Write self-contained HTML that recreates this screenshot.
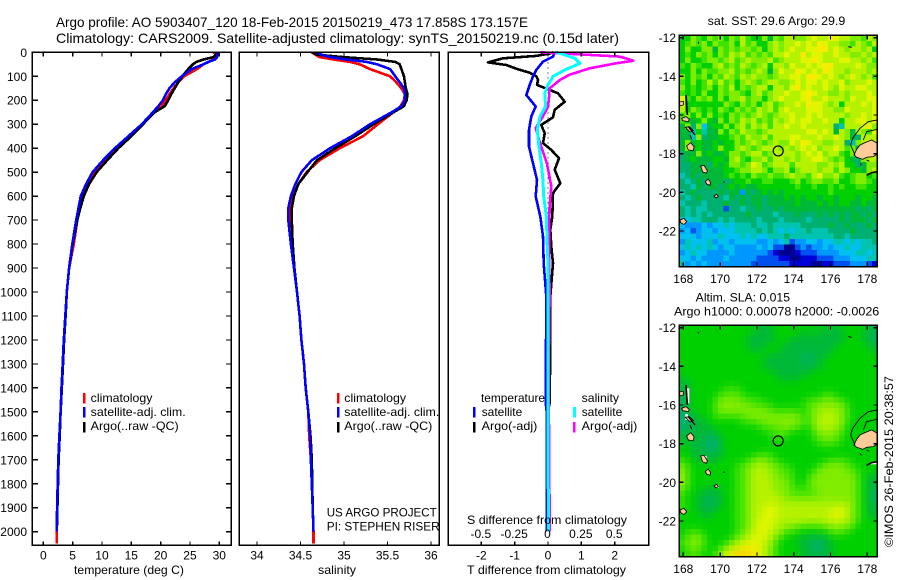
<!DOCTYPE html>
<html>
<head>
<meta charset="utf-8">
<title>Argo profile</title>
<style>
html,body{margin:0;padding:0;background:#fff;}
svg{display:block;}
text{font-family:"Liberation Sans",sans-serif;font-size:12px;fill:#000;}
</style>
</head>
<body>
<svg id="fig" xmlns="http://www.w3.org/2000/svg" width="900" height="580" viewBox="0 0 900 580">
  <rect x="0" y="0" width="900" height="580" fill="#fff"/>
  <text x="56" y="27" style="font-size:14px" textLength="472" lengthAdjust="spacingAndGlyphs">Argo profile: AO 5903407_120 18-Feb-2015 20150219_473 17.858S 173.157E</text>
  <text x="56" y="43" style="font-size:14px" textLength="563" lengthAdjust="spacingAndGlyphs">Climatology: CARS2009. Satellite-adjusted climatology: synTS_20150219.nc (0.15d later)</text>

  <text x="74" y="574" textLength="110" lengthAdjust="spacingAndGlyphs">temperature (deg C)</text>
  <text x="318" y="574" textLength="38" lengthAdjust="spacingAndGlyphs">salinity</text>
  <text x="467" y="574" textLength="159" lengthAdjust="spacingAndGlyphs">T difference from climatology</text>

  <g id="marks"></g>

  <text x="467" y="524" textLength="160" lengthAdjust="spacingAndGlyphs">S difference from climatology</text>

  <g>
    <rect x="83" y="393" width="2.5" height="10.5" fill="#ff0000"/>
    <rect x="83" y="407" width="2.5" height="10.5" fill="#0000ff"/>
    <rect x="83" y="422" width="2.5" height="10.5" fill="#000"/>
    <text x="90.7" y="402" textLength="61.7" lengthAdjust="spacingAndGlyphs">climatology</text>
    <text x="90.7" y="416" textLength="95" lengthAdjust="spacingAndGlyphs">satellite-adj. clim.</text>
    <text x="90.7" y="430" textLength="88" lengthAdjust="spacingAndGlyphs">Argo(..raw -QC)</text>
  </g>
  <g>
    <rect x="337" y="393" width="2.5" height="10.5" fill="#ff0000"/>
    <rect x="337" y="407" width="2.5" height="10.5" fill="#0000ff"/>
    <rect x="337" y="422" width="2.5" height="10.5" fill="#000"/>
    <text x="344.3" y="402" textLength="61.7" lengthAdjust="spacingAndGlyphs">climatology</text>
    <text x="344.3" y="416" textLength="95" lengthAdjust="spacingAndGlyphs">satellite-adj. clim.</text>
    <text x="344.3" y="430" textLength="88" lengthAdjust="spacingAndGlyphs">Argo(..raw -QC)</text>
  </g>
  <text x="326.7" y="516.7" textLength="110" lengthAdjust="spacingAndGlyphs">US ARGO PROJECT</text>
  <text x="326.7" y="530.7" textLength="113" lengthAdjust="spacingAndGlyphs">PI: STEPHEN RISER</text>

  <g>
    <text x="481" y="402" textLength="64" lengthAdjust="spacingAndGlyphs">temperature</text>
    <rect x="473" y="407" width="2.5" height="10.5" fill="#0000ff"/>
    <rect x="473" y="422" width="2.5" height="10.5" fill="#000"/>
    <text x="481.7" y="416" textLength="40.6" lengthAdjust="spacingAndGlyphs">satellite</text>
    <text x="481.7" y="430" textLength="55.6" lengthAdjust="spacingAndGlyphs">Argo(-adj)</text>
    <text x="581.7" y="402" textLength="37.3" lengthAdjust="spacingAndGlyphs">salinity</text>
    <rect x="573" y="407" width="3" height="10.5" fill="#00ffff"/>
    <rect x="573" y="422" width="2.5" height="10.5" fill="#ff00ff"/>
    <text x="581.7" y="416" textLength="40.6" lengthAdjust="spacingAndGlyphs">satellite</text>
    <text x="581.7" y="430" textLength="55.6" lengthAdjust="spacingAndGlyphs">Argo(-adj)</text>
  </g>

  <text x="707.7" y="25" textLength="137.6" lengthAdjust="spacingAndGlyphs">sat. SST: 29.6 Argo: 29.9</text>
  <text x="695.7" y="301.7" textLength="94.3" lengthAdjust="spacingAndGlyphs">Altim. SLA: 0.015</text>
  <text x="674" y="315.7" textLength="205.3" lengthAdjust="spacingAndGlyphs">Argo h1000: 0.00078 h2000: -0.0026</text>
  <text transform="translate(893,547) rotate(-90)" textLength="171" lengthAdjust="spacingAndGlyphs">©IMOS 26-Feb-2015 20:38:57</text>
</svg>

<script>
// ---- profile data ----
const depths = [0,10,20,30,40,50,70,100,125,150,175,200,225,250,300,350,400,450,500,550,600,650,700,800,900,1000,1100,1200,1300,1400,1500,1600,1700,1800,1900,2000];
const climDepths = [0,10,20,30,40,50,70,100,125,150,175,200,225,250,300,350,400,450,500,550,600,650,700,800,900,1000,1100,1200,1300,1400,1500,1600,1700,1800,1900,2000,2050];

const tempArgo = [29.7,29.4,29.0,27.3,26.1,25.5,24.7,23.7,23.0,22.4,21.8,21.3,20.7,19.0,17.0,15.0,12.8,10.9,9.1,7.8,6.9,6.3,5.8,5.0,4.4,4.0,3.8,3.55,3.35,3.15,2.95,2.8,2.6,2.5,2.4,2.3];
const tempSat = [29.7,29.7,29.6,29.3,28.1,27.3,25.3,23.6,22.4,21.5,20.9,20.4,19.6,18.7,16.8,14.5,12.2,10.2,8.4,7.3,6.4,6.0,5.6,4.95,4.4,4.0,3.75,3.5,3.3,3.1,2.95,2.75,2.55,2.45,2.35,2.3];
const tempClim = [29.0,29.5,29.6,29.0,28.2,27.3,26.2,24.0,23.0,22.2,21.5,20.9,20.2,19.0,16.9,14.8,12.5,10.5,8.7,7.5,6.7,6.2,5.8,5.2,4.4,4.0,3.8,3.55,3.35,3.15,2.95,2.75,2.6,2.5,2.4,2.3,2.3];

const salArgo = [34.63,34.69,34.99,35.38,35.59,35.64,35.66,35.69,35.70,35.71,35.73,35.72,35.69,35.57,35.34,35.13,34.90,34.69,34.58,34.475,34.425,34.40,34.40,34.41,34.43,34.46,34.49,34.51,34.54,34.56,34.59,34.615,34.63,34.635,34.64,34.65];
const salSat = [34.70,34.74,34.84,35.03,35.26,35.38,35.53,35.59,35.64,35.69,35.70,35.70,35.66,35.55,35.30,35.09,34.84,34.63,34.51,34.44,34.39,34.36,34.36,34.39,34.425,34.46,34.49,34.51,34.54,34.56,34.59,34.61,34.62,34.63,34.64,34.65];
const salClim = [34.63,34.67,34.72,34.88,35.07,35.18,35.30,35.53,35.60,35.66,35.70,35.69,35.65,35.57,35.39,35.22,34.95,34.72,34.57,34.475,34.42,34.39,34.39,34.41,34.43,34.46,34.49,34.51,34.54,34.56,34.59,34.60,34.62,34.63,34.64,34.65,34.65];

const dTArgoDepths = [0,5,15,25,42,53,71,85,100,115,136,157,171,206,240,271,303,338,379,407,442,490,546,587,685,740,810,880,1018,1200,1460,1500,1700,2000];
const dTArgo = [0.15,0.05,-0.35,-1.35,-1.8,-1.25,-0.9,-0.55,-0.35,-0.3,-0.33,0.05,0.3,0.5,0.2,0.15,-0.2,-0.1,-0.15,0.1,0.33,0.2,0.37,0.15,0.13,0.07,0.1,0.15,0.07,0.07,0.05,0,0,0];
const dTSatDepths = [0,18,39,74,100,136,178,226,268,324,393,463,532,601,685,768,880,1018,1460,1500,2000];
const dTSat = [0.2,0.15,-0.15,-0.35,-0.45,-0.55,-0.65,-0.37,-0.5,-0.57,-0.57,-0.45,-0.33,-0.37,-0.23,-0.15,-0.13,-0.05,-0.07,-0.04,-0.04];
const dSSatDepths = [0,8,25,46,74,100,136,171,226,268,324,393,463,532,601,685,768,880,2000];
const dSSat = [0.06,0.11,0.2,0.24,0.125,0.04,0,-0.025,-0.018,-0.06,-0.08,-0.068,-0.05,-0.038,-0.032,-0.012,-0.008,0,0.002];
const dSArgoDepths = [0,3,11,18,35,46,67,94,115,150,185,226,268,316,379,463,560,643,740,824,1018,1300,1700,1900,2000];
const dSArgo = [-0.06,0.05,0.31,0.54,0.64,0.51,0.31,0.16,0.09,0.012,0.008,0,-0.038,-0.092,-0.06,-0.008,0.025,0.012,0.008,0.008,0.012,0.005,0.008,0.012,0.012];

// ---- tick labels ----
const depthTicks = [0,100,200,300,400,500,600,700,800,900,1000,1100,1200,1300,1400,1500,1600,1700,1800,1900,2000];
const tempTicks = [0,5,10,15,20,25,30];
const salTicks = [34,34.5,35,35.5,36];
const dTTicks = [-2,-1,0,1,2];
const dSTicks = [-0.5,-0.25,0,0.25,0.5];
const lonTicks = [168,170,172,174,176,178];
const latTicks = [12,14,16,18,20,22];

// ---- map values: one character per cell, level 0 (coldest/lowest) to e (warmest/highest) ----
const sstRows = [
"88a98a9a8a9b988a7a9bbaabcbbdcbbaa9ba",
"89a9a8a99a8b9a88ababbcbcbdcbbaa9ba9b",
"8a88aa7a9a9aa9a8ababcbbccddbcbabbab8",
"898a9a8a9bab9a9a9bbcbbdbccbbcbbaabab",
"8a889aa9ab9abaaab9abbbccdcbbbccbbab9",
"98a988ab9a9ba9ab8bbacbbcbcddbbbbcbaa",
"88a8a99aab9a9aba7acbbdcbcbdcbbabbbab",
"a8a9a8a9ba9babaa9abbccbddcbcbabcbab9",
"98a89b9b9a8aba9abbaabcbccbcbbcabbbcb",
"a8989a8a9b8a9abb8bbacdbcbbcbacbbccbb",
"9898a88a9aa98ab9abbcbbcdcbbaababbbcb",
"c98a9a8a8aab9aa8abcbbbcdbbcbbbacbbcc",
"c8888888a98a9a8ab9abbcbdccbab8bbbcbc",
"b8a9898a98a9a9bab9bcbbbcccbbaacbbbbc",
"9a8a8a898a9a9aba9abbcbbcbcbbbbabbcbc",
"9878a87a8a9bab9a9babcbccbbcbb8bbccbc",
"7a6a4788a8ab9bab9bbcbbcbbbbb65bbbcca",
"7758577a8a9baa9abbbbbbbccbcb7ba7ba9c",
"775a677889a9baab9bbbccbbbcbbcba76bbb",
"7a78778788a9aba9abaacbdcbbaabb65abcb",
"7a78778a88aba9abbbababcbcabbcb9a67bc",
"677a78778aa9abb9abbbbabcbcabb98a77ab",
"678777887ab98aab9bbababbccba9a876abb",
"667776878aa9acb9abbb9bbbbaabab8867aa",
"66776777889aabba8aab8abbbabb9ba887ab",
"5676777789898a99a99abaa9bcaab989aa89",
"656767776788988998889a89aa99a889aa98",
"665767767878778888888988988989889988",
"567666676773767878788888888988888888",
"656766665767677677787878878878887887",
"566656667667677677777877787878877877",
"656556662665667667677777777777776767",
"656565666666766665666766676767677676",
"545566656566665666566665666667677767",
"433343445455565565555566666766766676",
"342344344455556565454556555666676666",
"444344454445454455565555555566566666",
"354445344344443343452334434455454556",
"454545434433334342200232334344544555",
"345443333433333321000122233334445545",
"443433334333332222110011122233344455",
"534343333333322222221111001122233321"
];
const slaRows = [
"888888888888887778888888878778888877",
"888888888888877778888877877777888776",
"888888888888777777887777777777888776",
"888888888888777788877777777778888877",
"888888888888877888777777777788888887",
"888888888888888877777776777888888888",
"888888888888888777777766778888888888",
"888888888888888777777777778888888888",
"888888888888888887777777888888888888",
"788888888888888888777788888888888888",
"778888888888888888888888888888888888",
"778888889998888888888888888888888888",
"778888899999888888888888889988888888",
"6788889aaaa999988888888999aa99888888",
"6788889aaaaaa99998888899aaaaaa988888",
"6788889aaaaaaaaa99999989aabbaa988888",
"667788999999aaaaaaaaaa99abbbba988888",
"667778888889999aaaaaaa99abbbba988888",
"667777888888889999aaa998abbbaa888888",
"7777777888888888999988889aaaa9888888",
"77777667888888888998888899aa99888888",
"877766678888888888888888899998888888",
"887776678888888888888888888888888888",
"887777778888889998888888888888888888",
"9887777888889aaa99888888888999988888",
"a98888888899aabbaa99888889aaaa998888",
"a98888888899abbbaa9998889aaaaaa99888",
"b98888888899abbbbaa99889aaaaaaaa9877",
"b98888888899abbbbaaa9889aaaaaaaa9877",
"a98887788899abbbbaaa9999aaaaaaaa9877",
"988777778899abbbbbaa99999aaaaaaa9876",
"988776778899abbbbbbaaaaaaaaaaaaa9876",
"988776778899abbbcbbbbbbbbbbbbbba9877",
"988777788899abbcccbbbbbbbbbbccba9877",
"888877888899abbcccbbbbbbbbbcccba9877",
"888888888899abcccbbbbbbbbbbbcbba9888",
"888888888899abcccbbaaa9999aaaaa98888",
"899988888899bbccbba998888889a9988888",
"89aa988888aabcccba988877777888888888",
"9aaa98889abbcccbb9888777667788888888",
"89a99889abccddcba9888877667788888888",
"8999889bcdeeedcba9888877777788888888"
];
const levelChars = "0123456789abcde";
const levelColors = ["#000090","#0000d8","#0050f0","#0098ff","#00c0f0","#00c4b0","#00b070","#00b838","#00d000","#40e200","#80ec00","#b4f200","#e0f600","#f8ec00","#ffc800"];

// ---- axis functions ----
const yDepth = d => 52.3 + d * 0.2397;
const xTemp = v => 43.3 + v * 5.867;
const xSal = v => 257 + (v - 34) * 87;
const xDT = v => 548 + v * 33.35;
const xDS = v => 548 + v * 133.4;
const lonX = lon => 683.3 + (lon - 168) * 18.4;
const latY = (lat, top) => top + 2.4 + (lat - 12) * 19.33;

const SVGNS = "http://www.w3.org/2000/svg";
const root = document.getElementById("marks");
function make(tag, attrs, parent) {
  const el = document.createElementNS(SVGNS, tag);
  for (const k in attrs) el.setAttribute(k, attrs[k]);
  (parent || root).appendChild(el);
  return el;
}
function tickLine(x1, y1, x2, y2) {
  const el = make("line", {x1, y1, x2, y2, stroke: "#000", "stroke-width": 1.3, "shape-rendering": "crispEdges"});
  
  
  return el;
}
function tickLabel(x, y, str, anchor) {
  const el = make("text", {x, y, "text-anchor": anchor});
  el.textContent = str;
  
  
  return el;
}
function frame(x, y, w, h, name) {
  const el = make("rect", {x, y, width: w, height: h, fill: "none", stroke: "#000", "stroke-width": 1.5, "shape-rendering": "crispEdges"});
  
  
  return el;
}
function series(xs, ds, xFn, color, width, name) {
  const pts = xs.map((v, i) => xFn(v).toFixed(1) + "," + yDepth(ds[i]).toFixed(1)).join(" ");
  const el = make("polyline", {points: pts, fill: "none", stroke: color, "stroke-width": width, "stroke-linejoin": "round", "shape-rendering": "crispEdges"});
  
  
  return el;
}

// ---- panel geometry ----
const panelTop = 52.3, panelBottom = 545.3, panelH = panelBottom - panelTop;

// Temperature panel
series(tempClim, climDepths, xTemp, "#ff0000", 2.6, "temperature-climatology-line");
series(tempArgo, depths, xTemp, "#000000", 2.6, "temperature-argo-line");
series(tempSat, depths, xTemp, "#0000ff", 2.6, "temperature-satellite-line");
frame(32.3, panelTop, 199, panelH, "temperature-panel-frame");
depthTicks.forEach(d => {
  tickLine(32.3, yDepth(d), 38, yDepth(d));
  tickLine(226, yDepth(d), 231.3, yDepth(d));
  tickLabel(27, yDepth(d) + 4.5, String(d), "end");
});
tempTicks.forEach(t => {
  tickLine(xTemp(t), panelTop, xTemp(t), panelTop + 4);
  tickLine(xTemp(t), panelBottom - 4, xTemp(t), panelBottom);
  tickLabel(xTemp(t), 559.5, String(t), "middle");
});

// Salinity panel
series(salClim, climDepths, xSal, "#ff0000", 2.6, "salinity-climatology-line");
series(salArgo, depths, xSal, "#000000", 2.6, "salinity-argo-line");
series(salSat, depths, xSal, "#0000ff", 2.6, "salinity-satellite-line");
frame(239.3, panelTop, 200, panelH, "salinity-panel-frame");
salTicks.forEach(t => {
  tickLine(xSal(t), panelTop, xSal(t), panelTop + 4);
  tickLine(xSal(t), panelBottom - 4, xSal(t), panelBottom);
  tickLabel(xSal(t), 559.5, String(t), "middle");
});

// Difference panel
const zeroLine = make("line", {x1: xDT(0), y1: panelTop, x2: xDT(0), y2: 300, stroke: "#000", "stroke-width": 1, "stroke-dasharray": "1,4", "shape-rendering": "crispEdges"});


series(dTArgo, dTArgoDepths, xDT, "#000000", 2.6, "t-difference-argo-line");
series(dTSat, dTSatDepths, xDT, "#0000ff", 2.6, "t-difference-satellite-line");
series(dSArgo, dSArgoDepths, xDS, "#ff00ff", 2.6, "s-difference-argo-line");
series(dSSat, dSSatDepths, xDS, "#00ffff", 3, "s-difference-satellite-line");
frame(448.3, panelTop, 200.4, panelH, "difference-panel-frame");
dTTicks.forEach(t => {
  tickLine(xDT(t), panelTop, xDT(t), panelTop + 4);
  tickLine(xDT(t), panelBottom - 4, xDT(t), panelBottom);
  tickLabel(xDT(t), 559.5, String(t), "middle");
});
dSTicks.forEach(t => {
  tickLabel(xDS(t) - 0.5, 538, String(t), "middle");
});

// ---- maps ----
const mapLeft = 679.3, mapWidth = 198, mapHeight = 231.4;
const landPolys = [
  "582,465 590,448 600,435 615,428 635,420 652,430 652,462 640,470 620,472 608,478 590,472",
  "122,498 132,496 142,512 140,520 128,516",
  "136,545 145,537 152,548 150,556 140,552",
  "80,438 92,428 102,440 100,452 85,450",
  "65,355 78,350 88,358 85,365 68,362",
  "58,306 70,304 70,315 60,318",
  "162,588 170,583 175,590 168,594",
  "60,660 72,655 80,665 72,674 62,668",
  "76,382 88,380 100,392 90,396"
];
const coastLines = [
  "78,285 82,345",
  "85,380 105,405",
  "652,360 625,365 600,385 578,415 572,435 585,465",
  "610,420 620,395 652,388",
  "620,526 635,518 652,515",
  "565,140 575,142",
  "115,125 116,131",
  "90,405 95,418",
  "190,548 194,545",
  "600,490 604,496",
  "620,480 628,484"
];
const coastWidths = [5,4,2.6,2.6,5,3,3,3,3,3,3];
const whitePatches = ["80,295,8,45","76,372,8,18","126,498,14,20","166,586,10,8","632,516,20,7"];

function rgbOf(ch) {
  const hex = levelColors[levelChars.indexOf(ch)];
  return [parseInt(hex.slice(1,3),16), parseInt(hex.slice(3,5),16), parseInt(hex.slice(5,7),16)];
}
// Smoothed cell colour: centre-weighted mean of the cell and its neighbours' colours.
function smoothColor(rows, r, c) {
  const sum = [0,0,0];
  let w = 0;
  for (let dr = -1; dr <= 1; dr++) {
    for (let dc = -1; dc <= 1; dc++) {
      const row = rows[r + dr];
      if (!row || c + dc < 0 || c + dc >= row.length) continue;
      const wt = (dr === 0 ? 2 : 1) * (dc === 0 ? 2 : 1);
      const rgb = rgbOf(row[c + dc]);
      sum[0] += rgb[0] * wt;
      sum[1] += rgb[1] * wt;
      sum[2] += rgb[2] * wt;
      w += wt;
    }
  }
  return "rgb(" + Math.round(sum[0]/w) + "," + Math.round(sum[1]/w) + "," + Math.round(sum[2]/w) + ")";
}

function drawMap(top, rows, name, isSmooth) {
  const cellW = mapWidth / 36, cellH = mapHeight / 42;
  rows.forEach((row, r) => {
    row.split("").forEach((ch, c) => {
      const el = make("rect", {
        x: (mapLeft + c * cellW).toFixed(2),
        y: (top + r * cellH).toFixed(2),
        width: (cellW + 0.4).toFixed(2),
        height: (cellH + 0.4).toFixed(2),
        fill: isSmooth ? smoothColor(rows, r, c) : levelColors[levelChars.indexOf(ch)],
        "shape-rendering": "crispEdges"
      });
      
      
    });
  });
  const g = make("g", {transform: "translate(660," + (top - 35.3) + ") scale(0.3333)"});
  
  
  if (isSmooth) {
    whitePatches.forEach(s => {
      const p = s.split(",");
      const w = make("rect", {x: p[0], y: p[1], width: p[2], height: p[3], fill: "#fff"}, g);
      
      
    });
  }
  landPolys.forEach(pts => {
    const el = make("polygon", {points: pts, fill: "#ffcc99", stroke: "#000", "stroke-width": 2.5}, g);
    
    
  });
  coastLines.forEach((pts, i) => {
    const el = make("polyline", {points: pts, fill: "none", stroke: "#000", "stroke-width": coastWidths[i]}, g);
    
    
  });
  const circle = make("circle", {cx: lonX(173.157), cy: latY(17.858, top), r: 5, fill: "none", stroke: "#000", "stroke-width": 1.2});
  
  
  frame(mapLeft, top, mapWidth, mapHeight, name + '-frame');
  latTicks.forEach(lat => {
    const y = latY(lat, top);
    tickLine(mapLeft, y, mapLeft + 4, y);
    tickLine(mapLeft + mapWidth - 4, y, mapLeft + mapWidth, y);
    tickLabel(676, y + 4.5, "-" + lat, "end");
  });
  lonTicks.forEach(lon => {
    const x = lonX(lon);
    tickLine(x, top, x, top + 4);
    tickLine(x, top + mapHeight - 4, x, top + mapHeight);
    tickLabel(x, top + mapHeight + 16.5, String(lon), "middle");
  });
}
drawMap(35.3, sstRows, "sst-map", false);
drawMap(325.3, slaRows, "sla-map", true);
</script>
</body>
</html>
